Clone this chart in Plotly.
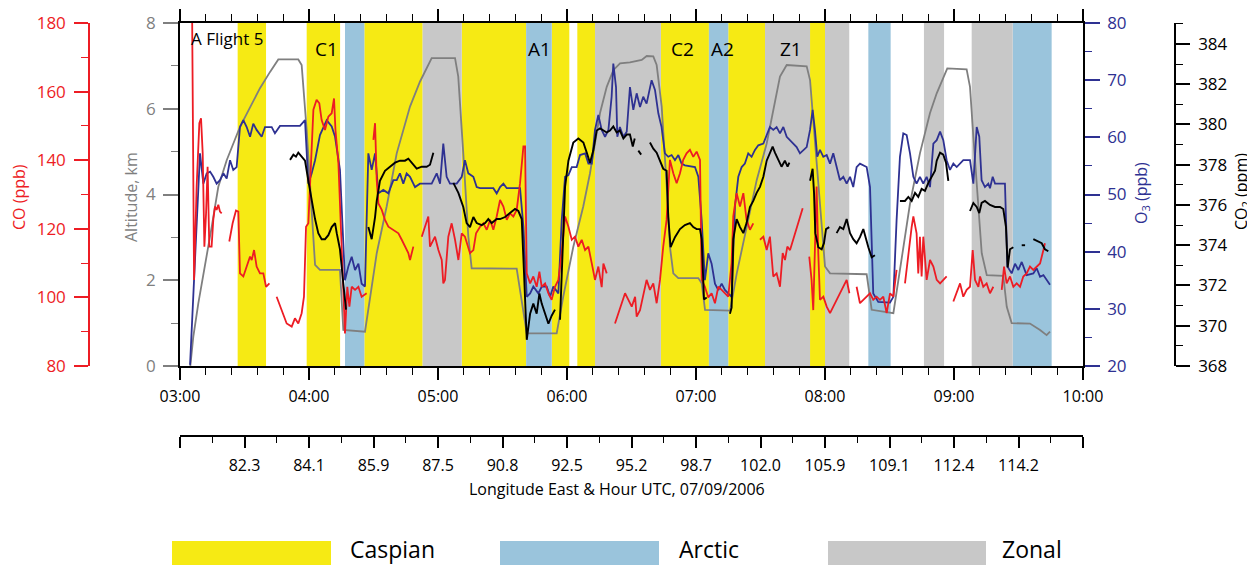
import plotly.graph_objects as go

# ---------------- data (time in decimal hours UTC) ----------------
alt_t = [3.08, 3.091, 3.103, 3.142, 3.194, 3.246, 3.297, 3.362, 3.465, 3.543, 3.620, 3.698, 3.762, 3.917, 3.943,
         3.982, 4.021, 4.047, 4.085, 4.240, 4.266, 4.421, 4.434, 4.525, 4.602, 4.680, 4.783, 4.860, 4.951, 5.132,
         5.157, 5.196, 5.235, 5.261, 5.610, 5.688, 5.920, 5.971, 6.049, 6.126, 6.178, 6.256, 6.308, 6.359, 6.411,
         6.488, 6.579, 6.618, 6.669, 6.695, 6.734, 6.773, 6.798, 6.824, 6.863, 7.018, 7.044, 7.070, 7.264, 7.316,
         7.393, 7.471, 7.548, 7.626, 7.651, 7.703, 7.858, 7.884, 7.910, 7.961, 8.000, 8.039, 8.323, 8.362, 8.530,
         8.581, 8.659, 8.736, 8.814, 8.866, 8.917, 8.948, 9.098, 9.124, 9.150, 9.176, 9.215, 9.254, 9.382, 9.409,
         9.447, 9.589, 9.667, 9.718, 9.744]
altitude_km = [0.0, 0.3, 0.68, 1.46, 2.32, 3.25, 4.18, 4.8, 5.58, 6.05, 6.48, 6.86, 7.15, 7.15, 7.02,
               5.5, 3.72, 2.36, 2.24, 2.24, 0.84, 0.79, 0.8, 2.63, 3.72, 4.96, 6.05, 6.63, 7.18, 7.18,
               6.75, 4.96, 3.02, 2.28, 2.27, 0.76, 0.76, 1.62, 2.78, 3.72, 4.49, 5.9, 6.51, 6.9, 7.06,
               7.08, 7.14, 7.23, 7.22, 7.02, 6.05, 4.18, 2.78, 2.16, 2.05, 2.05, 1.93, 1.31, 1.29, 2.16,
               3.25, 4.34, 5.19, 6.36, 6.75, 7.02, 6.99, 6.67, 5.74, 3.72, 2.32, 2.16, 2.14, 1.31, 1.23,
               2.24, 3.79, 4.96, 5.9, 6.36, 6.71, 6.94, 6.92, 6.51, 5.35, 4.18, 2.63, 2.12, 2.1, 1.38,
               1.0, 0.99, 0.84, 0.72, 0.8]

o3_t = [3.078, 3.155, 3.181, 3.207, 3.233, 3.258, 3.284, 3.310, 3.336, 3.362, 3.388, 3.413, 3.439, 3.465, 3.491,
        3.517, 3.543, 3.568, 3.594, 3.633, 3.659, 3.711, 3.736, 3.775, 3.930, 3.969, 3.995, 4.021, 4.047, 4.085,
        4.137, 4.176, 4.202, 4.240, 4.266, 4.279, 4.305, 4.331, 4.357, 4.383, 4.408, 4.434, 4.460, 4.486, 4.512,
        4.538, 4.576, 4.615, 4.654, 4.680, 4.705, 4.731, 4.757, 4.783, 4.822, 4.860, 4.951, 4.990, 5.016, 5.041,
        5.067, 5.093, 5.145, 5.184, 5.209, 5.235, 5.274, 5.300, 5.326, 5.429, 5.455, 5.481, 5.507, 5.533, 5.636,
        5.662, 5.688, 5.714, 5.739, 5.778, 5.804, 5.843, 5.869, 5.894, 5.933, 5.959, 5.985, 6.011, 6.037, 6.075,
        6.101, 6.140, 6.166, 6.192, 6.217, 6.243, 6.269, 6.295, 6.321, 6.346, 6.359, 6.380, 6.390, 6.410, 6.437,
        6.463, 6.488, 6.514, 6.540, 6.566, 6.591, 6.617, 6.656, 6.682, 6.708, 6.733, 6.759, 6.785, 6.811, 6.837,
        6.863, 6.888, 6.914, 6.992, 7.018, 7.044, 7.069, 7.095, 7.121, 7.147, 7.173, 7.199, 7.224, 7.250, 7.276,
        7.302, 7.328, 7.354, 7.379, 7.405, 7.431, 7.457, 7.483, 7.522, 7.548, 7.573, 7.599, 7.625, 7.651, 7.677,
        7.703, 7.729, 7.754, 7.780, 7.806, 7.832, 7.858, 7.884, 7.904, 7.922, 7.940, 7.961, 7.987, 8.013, 8.039,
        8.064, 8.090, 8.116, 8.142, 8.168, 8.194, 8.219, 8.245, 8.271, 8.323, 8.349, 8.374, 8.413, 8.504, 8.530,
        8.555, 8.581, 8.607, 8.633, 8.659, 8.685, 8.710, 8.736, 8.762, 8.788, 8.814, 8.840, 8.866, 8.892, 8.917,
        8.943, 8.969, 8.995, 9.021, 9.047, 9.072, 9.124, 9.150, 9.176, 9.196, 9.214, 9.240, 9.266, 9.279, 9.300,
        9.318, 9.395, 9.414, 9.447, 9.473, 9.499, 9.525, 9.563, 9.615, 9.641, 9.667, 9.693, 9.718, 9.744]
o3_ppb = [20.2, 57.2, 51.9, 53.7, 54.0, 53.1, 51.9, 52.5, 53.7, 52.8, 56.0, 54.3, 54.8, 61.8, 63.0,
          61.8, 60.1, 62.4, 61.3, 60.1, 61.8, 61.8, 60.7, 62.0, 62.0, 63.0, 51.9, 53.7, 56.0, 60.4,
          63.0, 61.9, 60.1, 54.3, 41.5, 35.0, 37.4, 39.1, 36.8, 37.9, 34.4, 33.9, 57.2, 54.3, 57.2,
          50.2, 50.8, 50.2, 52.5, 52.5, 53.7, 51.9, 53.7, 53.1, 51.3, 51.9, 51.9, 53.7, 51.9, 58.9,
          53.1, 51.9, 51.9, 53.1, 56.0, 53.7, 53.1, 51.3, 51.1, 51.1, 50.2, 51.3, 51.9, 51.1, 51.1,
          44.4, 32.1, 32.7, 33.9, 32.7, 33.9, 33.9, 32.1, 33.9, 32.7, 45.5, 53.1, 53.4, 54.8, 54.8,
          56.9, 57.2, 55.4, 55.4, 61.3, 63.9, 61.3, 60.1, 61.3, 67.1, 72.9, 68.8, 60.1, 61.8, 60.1,
          61.0, 68.8, 64.8, 67.7, 65.3, 67.1, 65.9, 70.0, 68.3, 64.2, 61.8, 57.2, 56.6, 56.9, 56.0,
          56.9, 55.4, 55.1, 54.8, 53.1, 45.5, 35.0, 39.7, 37.9, 34.4, 33.3, 34.4, 33.3, 32.7, 32.1,
          47.9, 53.1, 54.8, 55.4, 57.2, 56.6, 57.8, 58.6, 58.9, 60.4, 61.8, 61.3, 61.8, 60.7, 61.8,
          60.1, 59.5, 58.9, 58.3, 57.2, 57.8, 58.3, 61.3, 64.8, 61.3, 56.6, 57.8, 56.6, 56.9, 55.4,
          57.2, 54.8, 52.5, 53.1, 51.9, 53.1, 51.3, 54.8, 55.4, 54.8, 51.3, 32.7, 31.2, 31.1, 32.1,
          45.5, 56.6, 60.7, 60.4, 57.2, 53.1, 51.9, 53.1, 51.9, 53.1, 51.3, 58.9, 59.5, 61.0, 59.5,
          56.0, 54.3, 55.4, 54.8, 55.4, 56.0, 56.0, 51.9, 61.8, 60.1, 52.5, 51.3, 51.9, 51.1, 53.1,
          51.9, 51.9, 37.4, 36.2, 37.9, 36.8, 38.2, 35.9, 36.2, 37.1, 35.6, 35.9, 35.0, 34.2]

co_t = [3.094, 3.109, 3.129, 3.150, 3.163, 3.176, 3.189, 3.202, 3.214, 3.227, 3.245, 3.258, 3.271, 3.284, 3.297,
        3.310, 3.323, 3.350, 3.382, 3.408, 3.434, 3.452, 3.465, 3.491, 3.517, 3.543, 3.556, 3.574, 3.594, 3.620,
        3.646, 3.667, 3.693, 3.720, 3.749, 3.788, 3.827, 3.866, 3.891, 3.917, 3.943, 3.961, 3.977, 3.995, 4.034,
        4.059, 4.080, 4.098, 4.124, 4.150, 4.176, 4.194, 4.205, 4.228, 4.253, 4.266, 4.279, 4.297, 4.313, 4.331,
        4.357, 4.383, 4.408, 4.447, 4.470, 4.499, 4.512, 4.525, 4.538, 4.564, 4.589, 4.615, 4.654, 4.693, 4.719,
        4.744, 4.770, 4.783, 4.809, 4.840, 4.874, 4.900, 4.925, 4.938, 4.977, 5.003, 5.029, 5.041, 5.054, 5.080,
        5.106, 5.132, 5.158, 5.184, 5.209, 5.248, 5.274, 5.295, 5.326, 5.352, 5.378, 5.404, 5.429, 5.455, 5.481,
        5.507, 5.533, 5.558, 5.584, 5.610, 5.636, 5.662, 5.675, 5.688, 5.714, 5.739, 5.765, 5.786, 5.804, 5.830,
        5.856, 5.881, 5.907, 5.933, 5.959, 5.985, 6.011, 6.037, 6.062, 6.088, 6.114, 6.140, 6.166, 6.192, 6.217,
        6.243, 6.269, 6.282, 6.308, 6.340, 6.372, 6.398, 6.424, 6.450, 6.476, 6.502, 6.528, 6.540, 6.566, 6.591,
        6.617, 6.643, 6.669, 6.695, 6.721, 6.746, 6.772, 6.798, 6.824, 6.850, 6.876, 6.901, 6.927, 6.953, 6.979,
        7.005, 7.031, 7.044, 7.069, 7.095, 7.121, 7.147, 7.173, 7.199, 7.224, 7.250, 7.276, 7.289, 7.315, 7.341,
        7.367, 7.392, 7.418, 7.444, 7.470, 7.496, 7.522, 7.548, 7.573, 7.599, 7.625, 7.651, 7.672, 7.690, 7.708,
        7.729, 7.754, 7.780, 7.806, 7.827, 7.850, 7.878, 7.896, 7.909, 7.922, 7.935, 7.948, 7.961, 7.987, 8.013,
        8.039, 8.064, 8.090, 8.116, 8.142, 8.168, 8.189, 8.215, 8.245, 8.271, 8.297, 8.323, 8.349, 8.374, 8.400,
        8.426, 8.452, 8.478, 8.504, 8.530, 8.555, 8.590, 8.620, 8.646, 8.672, 8.685, 8.710, 8.723, 8.736, 8.749,
        8.762, 8.788, 8.814, 8.840, 8.866, 8.892, 8.917, 8.943, 8.970, 8.995, 9.021, 9.047, 9.072, 9.098, 9.124,
        9.145, 9.163, 9.189, 9.202, 9.227, 9.253, 9.279, 9.305, 9.340, 9.370, 9.388, 9.408, 9.434, 9.460, 9.486,
        9.512, 9.537, 9.563, 9.589, 9.615, 9.641, 9.667, 9.693, 9.705]
co_ppb = [182.0, 105.1, 132.3, 150.8, 152.2, 142.0, 114.8, 124.5, 138.1, 114.8, 114.8, 122.6, 126.5, 125.5, 127.0,
          125.0, 124.5, None, 116.3, 121.6, 125.3, 125.0, 107.0, 106.1, 109.0, 111.9, 110.9, 113.8, 109.0, 107.0,
          107.0, 103.1, 104.1, None, 100.2, 96.3, 92.4, 91.5, 93.9, 92.4, 95.4, 100.2, 120.6, 121.6, 154.7,
          157.6, 156.6, 151.7, 148.8, 152.7, 153.7, 158.0, 148.8, 139.1, 112.9, 98.3, 89.5, 103.1, 97.3, 103.1,
          102.2, 103.1, 100.2, 101.2, None, 145.9, 150.8, 134.2, 127.4, 125.5, 122.6, 120.6, 119.7, 118.7, 116.8,
          114.8, 112.9, 110.9, 114.8, None, 117.7, 120.6, 123.6, 114.8, 117.7, 113.8, 110.9, 104.1, 105.1, 117.7,
          121.6, 116.8, 110.9, 118.7, 117.7, 112.9, 113.8, 118.7, 120.6, 121.6, 119.7, 122.6, 119.7, 123.6, 128.4,
          126.5, 122.6, 124.5, 123.6, 125.5, 133.3, 144.0, 144.0, 107.0, 104.1, 106.1, 103.1, 107.5, 103.1, 104.1,
          101.2, 99.3, 103.1, 105.1, 112.9, 123.6, 120.6, 116.8, 117.7, 114.8, 116.8, 113.8, 114.8, 109.9, 105.1,
          109.0, 103.0, 109.9, 107.0, None, 92.4, 95.4, 98.3, 101.2, 99.3, 97.3, 100.2, 94.4, 96.3, 100.2,
          105.1, 102.2, 104.1, 98.3, 105.1, 114.8, 122.6, 140.1, 136.2, 133.3, 136.2, 140.1, 142.0, 143.0, 141.0,
          142.5, 140.1, 105.1, 103.1, 100.0, 101.2, 98.3, 103.1, 102.2, 101.2, 100.2, 110.0, 123.6, 130.4, 126.5,
          130.4, 122.6, 119.7, 121.6, None, 116.8, 117.7, 113.8, 117.7, 106.1, 107.0, 103.1, 112.9, 110.9, 114.8,
          113.8, 116.8, 120.6, 123.6, 126.0, None, 111.9, 105.1, 96.3, 112.9, 132.3, 112.9, 99.3, 100.2, 97.3,
          95.4, 97.3, 99.3, 101.2, 103.1, 105.1, 101.2, None, 103.1, 98.3, 99.3, 100.2, 101.2, 99.3, 100.2,
          99.3, 100.2, 95.4, 101.2, 100.2, 108.0, None, 104.1, 112.9, 120.6, 123.6, 118.7, 107.0, 117.7, 106.1,
          117.7, 105.1, 110.9, 109.0, 105.1, 104.1, 105.1, 106.1, None, 98.8, 101.2, 104.1, 100.2, 102.2, 103.1,
          113.8, 105.1, 103.1, 106.1, 103.1, 104.1, 101.2, 103.1, None, 102.2, 109.0, 104.1, 106.1, 103.1, 104.1,
          103.1, 106.1, 107.0, 109.0, 108.0, 109.0, 109.9, 113.8, 115.8]

co2_t = [3.853, 3.879, 3.899, 3.917, 3.943, 3.969, 3.995, 4.021, 4.047, 4.072, 4.098, 4.124, 4.150, 4.176, 4.202,
         4.215, 4.240, 4.266, 4.287, 4.370, 4.460, 4.486, 4.512, 4.525, 4.550, 4.589, 4.628, 4.667, 4.705, 4.744,
         4.770, 4.796, 4.835, 4.874, 4.912, 4.938, 4.964, 5.040, 5.119, 5.158, 5.196, 5.222, 5.248, 5.274, 5.300,
         5.339, 5.365, 5.390, 5.416, 5.455, 5.481, 5.520, 5.558, 5.597, 5.623, 5.649, 5.667, 5.688, 5.714, 5.739,
         5.765, 5.786, 5.804, 5.830, 5.856, 5.881, 5.907, 5.925, 5.946, 5.967, 5.985, 6.011, 6.049, 6.088, 6.127,
         6.153, 6.178, 6.204, 6.230, 6.256, 6.282, 6.308, 6.333, 6.359, 6.385, 6.410, 6.437, 6.463, 6.488, 6.510,
         6.525, 6.540, 6.553, 6.575, 6.610, 6.643, 6.669, 6.695, 6.721, 6.746, 6.772, 6.785, 6.803, 6.837, 6.876,
         6.914, 6.953, 6.979, 7.005, 7.031, 7.044, 7.062, 7.083, 7.170, 7.263, 7.276, 7.289, 7.315, 7.341, 7.367,
         7.392, 7.418, 7.444, 7.470, 7.496, 7.522, 7.548, 7.573, 7.594, 7.612, 7.638, 7.663, 7.689, 7.710, 7.724,
         7.800, 7.884, 7.904, 7.915, 7.925, 7.948, 7.974, 7.992, 8.008, 8.033, 8.060, 8.090, 8.116, 8.142, 8.168,
         8.194, 8.219, 8.245, 8.271, 8.297, 8.318, 8.336, 8.362, 8.387, 8.480, 8.581, 8.620, 8.646, 8.672, 8.698,
         8.723, 8.749, 8.775, 8.801, 8.827, 8.853, 8.866, 8.892, 8.917, 8.938, 8.956, 9.040, 9.124, 9.150, 9.176,
         9.196, 9.214, 9.240, 9.279, 9.318, 9.357, 9.382, 9.403, 9.416, 9.434, 9.460, 9.490, 9.525, 9.551, 9.580,
         9.615, 9.654, 9.680, 9.705, 9.731]
co2_ppm = [378.24, 378.5, 378.4, 378.6, 378.4, 378.2, 377.2, 376.2, 375.3, 374.6, 374.3, 374.3, 374.5, 374.9, 375.1,
           374.6, 373.8, 372.1, 370.8, None, 374.9, 374.3, 375.4, 376.2, 377.2, 377.7, 377.9, 378.1, 378.2, 378.2,
           378.3, 378.1, 377.8, 377.9, 377.9, 378.0, 378.6, None, 377.1, 376.6, 375.9, 375.1, 374.9, 375.4, 375.1,
           375.0, 375.1, 375.3, 375.1, 375.3, 375.3, 375.4, 375.6, 375.8, 375.7, 375.3, 372.6, 369.3, 370.6, 371.1,
           370.6, 371.6, 371.1, 370.6, 370.1, 370.5, 370.8, None, 370.3, 374.4, 376.9, 378.2, 379.1, 379.3, 379.1,
           378.6, 378.1, 378.7, 379.7, 379.8, 379.7, 379.6, 379.7, 379.9, 379.6, 379.7, 379.3, 379.5, 379.5, 378.9,
           379.3, None, 378.7, 378.5, None, 379.1, 378.8, 378.6, 378.2, 377.8, 377.7, 375.4, 373.9, 374.4, 374.8,
           375.0, 375.1, 374.9, 374.8, 374.8, 374.3, 371.3, 371.4, None, 370.6, 370.9, 374.3, 375.3, 374.9, 374.6,
           375.1, 375.9, 376.2, 376.6, 376.9, 377.4, 378.2, 378.6, 378.9, 378.6, 378.2, 377.9, 378.2, 377.9, 378.1,
           None, 377.2, 377.8, 376.6, 374.6, 373.9, 373.8, 374.1, 374.8, 374.9, None, 374.6, 374.9, 374.8, 375.3,
           374.6, 374.3, 374.1, 374.4, 374.8, 374.3, 373.9, 373.4, 373.5, None, 376.2, 376.2, 376.4, 376.2, 376.6,
           376.4, 376.8, 376.7, 377.1, 377.4, 377.7, 378.2, 378.6, 378.5, 378.1, 377.2, None, 375.7, 376.1, 375.9,
           375.6, 376.1, 376.2, 376.0, 375.9, 375.9, 375.8, 374.9, 372.9, 373.8, 373.9, None, 374.0, 374.0, None,
           374.3, 374.2, 374.1, 373.8, 373.7]

# air-mass classification periods (start, end in decimal hours)
caspian_periods = [(3.447, 3.667), (3.982, 4.241), (4.429, 4.881), (5.184, 5.683), (5.882, 6.018),
                   (6.080, 6.217), (6.728, 7.100), (7.250, 7.535), (7.884, 8.000)]
arctic_periods = [(4.279, 4.429), (5.683, 5.882), (7.100, 7.250), (8.336, 8.509), (9.455, 9.757)]
zonal_periods = [(4.881, 5.184), (6.217, 6.728), (7.535, 7.884), (8.000, 8.188), (8.767, 8.923), (9.137, 9.455)]

segment_labels = ["C1", "A1", "C2", "A2", "Z1"]
segment_label_t = [4.137, 5.783, 6.899, 7.205, 7.736]

hour_ticks = [3, 4, 5, 6, 7, 8, 9, 10]
hour_labels = ["03:00", "04:00", "05:00", "06:00", "07:00", "08:00", "09:00", "10:00"]
lon_tick_t = [3.0, 3.5, 4.0, 4.5, 5.0, 5.5, 6.0, 6.5, 7.0, 7.5, 8.0, 8.5, 9.0, 9.5, 10.0]
lon_labels = ["", "82.3", "84.1", "85.9", "87.5", "90.8", "92.5", "95.2", "98.7", "102.0", "105.9",
              "109.1", "112.4", "114.2", ""]

# ---------------- style ----------------
FONT = "Open Sans"
YELLOW = "#f6ea14"
BLUE = "#9ac4dc"
GREY = "#c8c8c8"
RED = "#ed1c24"
NAVY = "#2e3192"
ALTC = "#7f7f7f"

OFF = 8  # page body margin of the browser
W, H = 1255 - OFF, 565 - OFF
ML, MR, MT, MB = 40, 20, 10, 100
PW, PH = W - ML - MR, H - MT - MB


def px(xpix):
    return (xpix - OFF - ML) / PW


def py(ypix):
    return (H - MB - (ypix - OFF)) / PH


fig = go.Figure()

fig.add_trace(go.Scatter(x=alt_t, y=altitude_km, mode="lines", line=dict(color=ALTC, width=1.8),
                         xaxis="x", yaxis="y", showlegend=False, hoverinfo="skip"))
# carrier for the longitude axis (invisible)
fig.add_trace(go.Scatter(x=alt_t, y=altitude_km, mode="lines", line=dict(width=0), opacity=0,
                         xaxis="x2", yaxis="y", showlegend=False, hoverinfo="skip"))
fig.add_trace(go.Scatter(x=co_t, y=co_ppb, mode="lines", line=dict(color=RED, width=1.8),
                         xaxis="x", yaxis="y3", showlegend=False, connectgaps=False))
fig.add_trace(go.Scatter(x=o3_t, y=o3_ppb, mode="lines", line=dict(color=NAVY, width=1.8),
                         xaxis="x", yaxis="y2", showlegend=False))
fig.add_trace(go.Scatter(x=co2_t, y=co2_ppm, mode="lines", line=dict(color="black", width=1.9),
                         xaxis="x", yaxis="y4", showlegend=False, connectgaps=False))

shapes = []
for periods, col in ((caspian_periods, YELLOW), (arctic_periods, BLUE), (zonal_periods, GREY)):
    for a, b in periods:
        shapes.append(dict(type="rect", xref="x", yref="y domain", x0=a, x1=b, y0=0, y1=1,
                           fillcolor=col, line=dict(width=0), layer="below"))

# legend boxes
legend_items = [("Caspian", YELLOW, 172, 331, 348), ("Arctic", BLUE, 500, 659, 677), ("Zonal", GREY, 828, 986, 1000)]
annotations = []
for name, col, x0, x1, tx in legend_items:
    shapes.append(dict(type="rect", xref="paper", yref="paper", x0=px(x0), x1=px(x1), y0=py(566), y1=py(541),
                       fillcolor=col, line=dict(width=0)))
    annotations.append(dict(text=name, xref="paper", yref="paper", x=px(tx), y=py(549), xanchor="left",
                            yanchor="middle", showarrow=False, font=dict(size=23, color="black", family=FONT)))

for lab, t in zip(segment_labels, segment_label_t):
    annotations.append(dict(text=lab, xref="x", yref="paper", x=t, y=py(49), xanchor="center",
                            yanchor="middle", showarrow=False, font=dict(size=19, color="black", family=FONT)))
annotations.append(dict(text="A Flight 5", xref="x", yref="paper", x=3.068, y=py(38.5), xanchor="left",
                        yanchor="middle", showarrow=False, font=dict(size=17, color="black", family=FONT)))

annotations += [
    dict(text="CO (ppb)", xref="paper", yref="paper", x=px(19), y=py(197), textangle=-90, showarrow=False,
         xanchor="center", yanchor="middle", font=dict(size=16, color=RED, family=FONT)),
    dict(text="Altitude, km", xref="paper", yref="paper", x=px(131), y=py(197), textangle=-90, showarrow=False,
         xanchor="center", yanchor="middle", font=dict(size=16, color=ALTC, family=FONT)),
    dict(text="O<sub>3</sub> (ppb)", xref="paper", yref="paper", x=px(1141), y=py(193), textangle=-90,
         xanchor="center", yanchor="middle", showarrow=False, font=dict(size=16, color=NAVY, family=FONT)),
    dict(text="CO<sub>2</sub> (ppm)", xref="paper", yref="paper", x=px(1241), y=py(192), textangle=-90,
         xanchor="center", yanchor="middle", showarrow=False, font=dict(size=16, color="black", family=FONT)),
    dict(text="Longitude East & Hour UTC, 07/09/2006", xref="paper", yref="paper", x=px(617), y=py(489),
         xanchor="center", yanchor="middle", showarrow=False, font=dict(size=16, color="black", family=FONT)),
]

xdom = [px(180), px(1083)]
ydom = [py(366), py(23)]

fig.update_layout(
    width=W, height=H,
    margin=dict(l=ML, r=MR, t=MT, b=MB, autoexpand=False),
    paper_bgcolor="white", plot_bgcolor="white",
    font=dict(family=FONT, size=16, color="black"),
    showlegend=False,
    shapes=shapes, annotations=annotations,
    xaxis=dict(domain=xdom, range=[3, 10], tickmode="array", tickvals=hour_ticks, ticktext=hour_labels,
               ticks="outside", ticklen=12, tickwidth=1.5, tickcolor="black", showline=True, linecolor="black",
               linewidth=1.5, mirror="ticks", showgrid=False, zeroline=False, ticklabelstandoff=3,
               tickfont=dict(size=16, family=FONT, color="black"),
               minor=dict(tick0=3, dtick=0.2, ticks="outside", ticklen=7, tickwidth=1.2, tickcolor="black",
                          showgrid=False)),
    xaxis2=dict(overlaying="x", anchor="free", position=py(436), side="bottom", range=[3, 10],
                tickmode="array", tickvals=lon_tick_t, ticktext=lon_labels, ticks="outside", ticklen=11,
                tickwidth=1.5, tickcolor="black", showline=True, linecolor="black", linewidth=1.5,
                showgrid=False, zeroline=False, tickfont=dict(size=16, family=FONT, color="black"),
                ticklabelstandoff=4,
                minor=dict(tick0=3, dtick=0.25, ticks="outside", ticklen=6, tickwidth=1.2, tickcolor="black",
                           showgrid=False)),
    yaxis=dict(domain=ydom, range=[0, 8], tickmode="linear", tick0=0, dtick=2, ticks="outside", ticklen=15,
               tickwidth=1.5, tickcolor=ALTC, showline=True, linecolor="black", linewidth=1.5, showgrid=False,
               zeroline=False, tickfont=dict(size=17, family=FONT, color=ALTC), ticklabelstandoff=4,
               minor=dict(dtick=1, ticks="outside", ticklen=7, tickwidth=1.2, tickcolor=ALTC, showgrid=False)),
    yaxis2=dict(overlaying="y", side="right", anchor="x", range=[20, 80], tickmode="linear", tick0=20, dtick=10,
                ticks="outside", ticklen=15, tickwidth=1.5, tickcolor=NAVY, showline=True, linecolor="black",
                linewidth=1.5, showgrid=False, zeroline=False, tickfont=dict(size=17, family=FONT, color=NAVY),
                ticklabelstandoff=4,
                minor=dict(dtick=5, ticks="outside", ticklen=7, tickwidth=1.2, tickcolor=NAVY, showgrid=False)),
    yaxis3=dict(overlaying="y", side="left", anchor="free", position=px(89), range=[80, 180], tickmode="linear",
                tick0=80, dtick=20, ticks="outside", ticklen=14, tickwidth=1.5, tickcolor=RED, showline=True,
                linecolor=RED, linewidth=1.5, showgrid=False, zeroline=False, ticklabelstandoff=5,
                tickfont=dict(size=17, family=FONT, color=RED),
                minor=dict(dtick=10, ticks="outside", ticklen=7, tickwidth=1.2, tickcolor=RED, showgrid=False)),
    yaxis4=dict(overlaying="y", side="right", anchor="free", position=px(1175), range=[368, 385.04],
                tickmode="linear", tick0=368, dtick=2, ticks="outside", ticklen=14, tickwidth=1.5,
                tickcolor="black", showline=True, linecolor="black", linewidth=1.5, showgrid=False,
                zeroline=False, tickfont=dict(size=17, family=FONT, color="black"), ticklabelstandoff=5,
                minor=dict(dtick=1, ticks="outside", ticklen=7, tickwidth=1.2, tickcolor="black", showgrid=False)),
)

fig.write_html("out.html", config={"displayModeBar": False})
